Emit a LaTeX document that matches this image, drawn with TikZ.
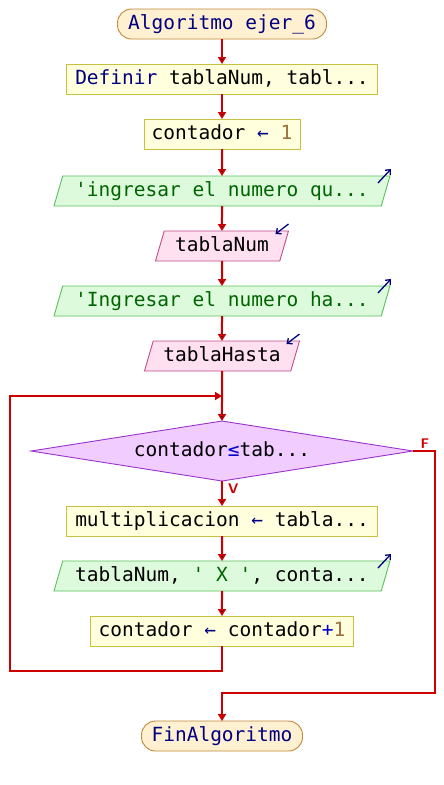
\documentclass[tikz,border=0pt]{standalone}
\usepackage{fontspec}
\setmonofont{DejaVu Sans Mono}
\usetikzlibrary{positioning}
\usetikzlibrary{calc}
\usetikzlibrary{shapes.geometric}
\usetikzlibrary{arrows.meta}

\definecolor{flowred}{HTML}{CC0000}
\definecolor{kw}{HTML}{000080}
\definecolor{strcol}{HTML}{006400}
\definecolor{numcol}{HTML}{A0703C}
\definecolor{opcol}{HTML}{0000CC}
\definecolor{termfill}{HTML}{FFF0D2}
\definecolor{termdraw}{HTML}{C08838}
\definecolor{procfill}{HTML}{FFFFDD}
\definecolor{procdraw}{HTML}{C8C040}
\definecolor{outfill}{HTML}{DDFADD}
\definecolor{outdraw}{HTML}{5CBF5C}
\definecolor{infill}{HTML}{FFE0F0}
\definecolor{indraw}{HTML}{C04C88}
\definecolor{condfill}{HTML}{F0CCFF}
\definecolor{conddraw}{HTML}{9933CC}

\begin{document}
\begin{tikzpicture}[->,>={Triangle[length=7pt,width=8pt]},node distance=25pt,
every node/.style={font=\ttfamily\fontsize{19.5}{22}\selectfont,text height=14pt,text depth=4pt,inner sep=3pt,outer sep=0pt},
term node/.style={draw=termdraw,fill=termfill,rounded corners=14pt,minimum height=30pt,line width=0.9pt},
proc node/.style={draw=procdraw,fill=procfill,minimum height=30pt,line width=0.9pt},
out node/.style={trapezium,trapezium left angle=70,trapezium right angle=110,trapezium stretches body,
  draw=outdraw,fill=outfill,minimum height=30pt,line width=0.9pt},
in node/.style={trapezium,trapezium left angle=70,trapezium right angle=110,trapezium stretches body,
  draw=indraw,fill=infill,minimum height=30pt,line width=0.9pt},
cond node/.style={diamond,shape aspect=6.4,inner sep=0pt,draw=conddraw,fill=condfill,
  minimum width=382pt,minimum height=60pt,line width=0.9pt},
flow/.style={draw=flowred,line width=2pt},
icon/.style={draw=kw,line width=1.3pt,-{Straight Barb[length=4pt,width=7pt]}},
lbl/.style={font=\sffamily\bfseries\fontsize{14}{15}\selectfont,text=flowred,text height=10pt,text depth=0pt,inner sep=1pt}]

\useasboundingbox (0,0) rectangle (444pt,-785pt);

\node[term node,minimum width=209pt] (start) at (222pt,-24pt) {\textcolor{kw}{Algoritmo ejer\_6}};
\node[proc node,minimum width=311pt] (def) [below=of start] {\textcolor{kw}{Definir} tablaNum, tabl...};
\node[proc node,minimum width=156pt] (cinit) [below=of def] {contador \textcolor{kw}{←} \textcolor{numcol}{1}};
\node[out node,minimum width=336pt] (out1) [below=27pt of cinit] {\textcolor{strcol}{'ingresar el numero qu...}};
\node[in node,minimum width=133pt] (in1) [below=of out1] {tablaNum};
\node[out node,minimum width=336pt] (out2) [below=of in1] {\textcolor{strcol}{'Ingresar el numero ha...}};
\node[in node,minimum width=155pt] (in2) [below=of out2] {tablaHasta};
\node[cond node] (cond) [below=50pt of in2] {contador\textcolor{opcol}{≤}tab...};
\node[proc node,minimum width=311pt] (mult) [below=of cond] {multiplicacion \textcolor{kw}{←} tabla...};
\node[out node,minimum width=336pt] (out3) [below=of mult] {tablaNum, \textcolor{strcol}{' X '}, conta...};
\node[proc node,minimum width=263pt] (cplus) [below=of out3] {contador \textcolor{kw}{←} contador\textcolor{opcol}{+}\textcolor{numcol}{1}};
\node[term node,minimum width=161pt] (fin) [below=75pt of cplus] {\textcolor{kw}{FinAlgoritmo}};

% io markers
\draw[icon] ($(out1.top right corner)+(-12pt,-7pt)$) -- ++(13pt,14pt);
\draw[icon] ($(out2.top right corner)+(-12pt,-7pt)$) -- ++(13pt,14pt);
\draw[icon] ($(out3.top right corner)+(-12pt,-7pt)$) -- ++(13pt,14pt);
\draw[icon] ($(in1.top right corner)+(0pt,7pt)$) -- ++(-13pt,-10pt);
\draw[icon] ($(in2.top right corner)+(0pt,7pt)$) -- ++(-13pt,-10pt);

\coordinate (loopin) at ($(cond.north)+(0,25pt)$);
\coordinate (loopcorner) at ($(loopin)+(-212pt,0)$);
\coordinate (finin) at ($(fin.north)+(0,28pt)$);

\path[flow]
(start) edge (def)
(def) edge (cinit)
(cinit) edge (out1)
(out1) edge (in1)
(in1) edge (out2)
(out2) edge (in2)
(in2) edge (cond)
(cond) edge (mult)
(mult) edge (out3)
(out3) edge (cplus)
;
\draw[flow] (cplus.south) -- ++(0,-25pt) -| (loopcorner) -- (loopin);
\draw[flow] (cond.east) -- ++(22pt,0) |- (finin) -- (fin.north);

\node[lbl,anchor=south] at ($(cond.east)+(12pt,2pt)$) {F};
\node[lbl,anchor=north west] at ($(cond.south)+(5pt,-1pt)$) {V};
\end{tikzpicture}
\end{document}
